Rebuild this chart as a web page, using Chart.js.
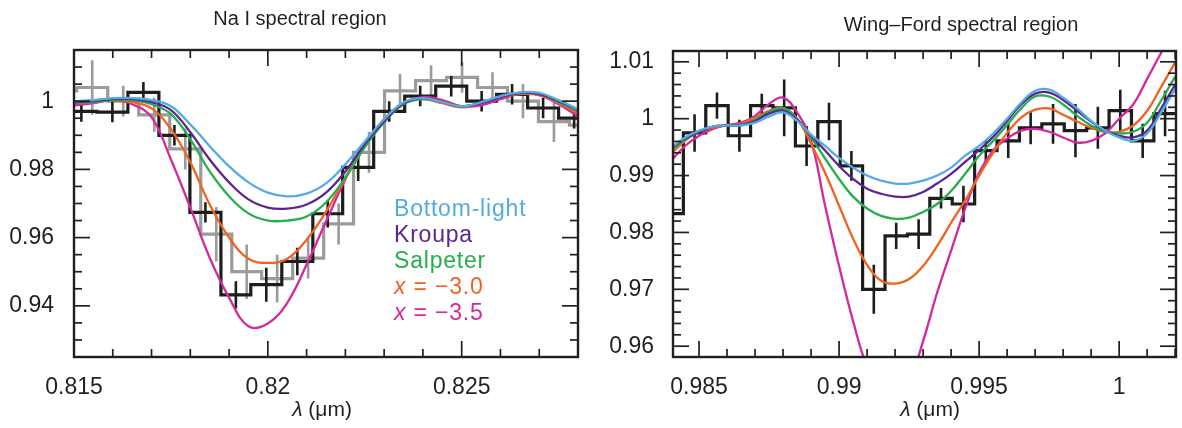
<!DOCTYPE html>
<html><head><meta charset="utf-8">
<script src="https://cdn.jsdelivr.net/npm/chart.js@4.4.1/dist/chart.umd.min.js"></script>
<style>
html,body{margin:0;padding:0;background:#fff;width:1182px;height:428px;overflow:hidden;}
#c1{position:absolute;left:0;top:0;}
#c2{position:absolute;left:590px;top:0;}
</style></head><body>
<canvas id="c1" width="590" height="428"></canvas>
<canvas id="c2" width="592" height="428"></canvas>
<script>
// ---------- Na I panel ----------
const naLambda = [0.815,0.8155,0.816,0.8165,0.817,0.8175,0.818,0.8185,0.819,0.8195,0.82,0.8205,0.821,0.8215,0.822,0.8225,0.823,0.8235,0.824,0.8245,0.825,0.8255,0.826,0.8265,0.827,0.8275,0.828];
const naBottomLight = [1.0000,1.0003,1.0009,1.0009,1.0003,0.9985,0.9932,0.9868,0.9809,0.9762,0.9732,0.9721,0.9729,0.9759,0.9815,0.9882,0.9947,0.9997,1.0009,0.9997,0.9985,0.9997,1.0015,1.0026,1.0024,1.0003,0.9976];
const naKroupa = [0.9997,1.0000,1.0006,1.0006,0.9997,0.9974,0.9909,0.9829,0.9762,0.9712,0.9688,0.9685,0.9697,0.9732,0.9794,0.9874,0.9941,0.9994,1.0009,0.9997,0.9985,0.9994,1.0012,1.0024,1.0021,1.0000,0.9974];
const naSalpeter = [0.9994,0.9997,1.0003,1.0003,0.9991,0.9962,0.9888,0.9794,0.9721,0.9671,0.9650,0.9650,0.9662,0.9703,0.9776,0.9865,0.9938,0.9991,1.0006,0.9997,0.9985,0.9994,1.0012,1.0024,1.0021,0.9997,0.9971];
const naX30 = [0.9994,0.9997,1.0003,0.9997,0.9979,0.9918,0.9821,0.9697,0.9600,0.9538,0.9526,0.9538,0.9594,0.9676,0.9776,0.9874,0.9944,0.9994,1.0006,0.9994,0.9982,0.9994,1.0012,1.0021,1.0018,0.9994,0.9965];
const naX35 = [0.9988,0.9994,1.0003,0.9991,0.9953,0.9829,0.9688,0.9541,0.9424,0.9340,0.9348,0.9409,0.9521,0.9647,0.9771,0.9874,0.9947,0.9994,1.0012,1.0003,0.9985,0.9988,1.0006,1.0021,1.0018,0.9991,0.9956];

const naBlackEdges = [0.81479,0.81559,0.81639,0.81719,0.81799,0.81879,0.81956,0.82036,0.82116,0.82193,0.82273,0.82353,0.82433,0.82513,0.82590,0.82670,0.82750,0.82830];
const naBlackFlux = [0.9970,0.9968,1.0026,0.9900,0.9674,0.9432,0.9462,0.9530,0.9670,0.9806,0.9970,1.0015,1.0044,1.0000,1.0020,0.9980,0.9950];
const naBlackErr = [0.003,0.003,0.003,0.003,0.003,0.004,0.005,0.004,0.004,0.004,0.003,0.003,0.003,0.003,0.003,0.003,0.003];

const naGreyEdges = [0.81427,0.81507,0.81587,0.81667,0.81747,0.81827,0.81907,0.81984,0.82064,0.82144,0.82221,0.82301,0.82381,0.82461,0.82541,0.82618,0.82698,0.82778,0.82858];
const naGreyFlux = [1.003,1.004,1.000,0.996,0.986,0.961,0.950,0.948,0.954,0.964,0.985,1.003,1.006,1.007,1.004,1.000,0.994,0.993];
const naGreyErr = [0.006,0.008,0.0045,0.005,0.006,0.008,0.008,0.007,0.006,0.006,0.006,0.005,0.0045,0.0045,0.0045,0.005,0.006,0.006];

const naXTicks = [0.815,0.82,0.825];
const naXTickLabels = ['0.815','0.82','0.825'];
const naXMinor = [0.816,0.817,0.818,0.819,0.821,0.822,0.823,0.824,0.826,0.827];
const naYTicks = [0.94,0.96,0.98,1.0];
const naYTickLabels = ['0.94','0.96','0.98','1'];
const naYMinor = [0.93,0.935,0.945,0.95,0.955,0.965,0.97,0.975,0.985,0.99,0.995,1.005,1.01];

// ---------- Wing-Ford panel ----------
const wfLambda = [0.984,0.9845,0.985,0.9855,0.986,0.9865,0.987,0.9875,0.988,0.9885,0.989,0.9895,0.99,0.9905,0.991,0.9915,0.992,0.9925,0.993,0.9935,0.994,0.9945,0.995,0.9955,0.996,0.9965,0.997,0.9975,0.998,0.9985,0.999,0.9995,1.0,1.0005,1.001,1.0015,1.002];
const wfBottomLight = [0.9949,0.9967,0.9979,0.9986,0.9988,0.9988,0.9993,1.0004,1.0011,0.9996,0.9972,0.9952,0.9931,0.9914,0.9900,0.9891,0.9886,0.9886,0.9891,0.9900,0.9914,0.9935,0.9952,0.9974,1.0000,1.0028,1.0049,1.0051,1.0037,1.0018,0.9996,0.9979,0.9967,0.9961,0.9974,1.0011,1.0053];
const wfKroupa = [0.9947,0.9965,0.9977,0.9986,0.9988,0.9989,0.9996,1.0009,1.0014,0.9998,0.9970,0.9944,0.9917,0.9894,0.9877,0.9868,0.9863,0.9863,0.9871,0.9886,0.9903,0.9924,0.9945,0.9968,0.9996,1.0025,1.0044,1.0046,1.0033,1.0014,0.9995,0.9979,0.9970,0.9967,0.9979,1.0018,1.0060];
const wfSalpeter = [0.9944,0.9963,0.9977,0.9986,0.9988,0.9989,0.9998,1.0012,1.0018,1.0000,0.9967,0.9930,0.9894,0.9863,0.9842,0.9829,0.9824,0.9826,0.9836,0.9850,0.9873,0.9903,0.9935,0.9961,0.9989,1.0018,1.0039,1.0039,1.0025,1.0005,0.9988,0.9977,0.9974,0.9977,0.9993,1.0032,1.0074];
const wfX30 = [0.9938,0.9961,0.9977,0.9984,0.9988,0.9991,1.0002,1.0014,1.0019,1.0000,0.9956,0.9905,0.9847,0.9789,0.9743,0.9715,0.9710,0.9718,0.9741,0.9776,0.9817,0.9856,0.9900,0.9940,0.9975,1.0002,1.0016,1.0018,1.0007,0.9995,0.9984,0.9977,0.9977,0.9988,1.0014,1.0056,1.0099];
const wfX35 = [0.9926,0.9952,0.9970,0.9982,0.9989,0.9993,1.0005,1.0026,1.0037,1.0011,0.9961,0.9847,0.9741,0.9644,0.9565,0.9530,0.9516,0.9539,0.9609,0.9694,0.9768,0.9842,0.9905,0.9944,0.9965,0.9979,0.9982,0.9977,0.9967,0.9958,0.9961,0.9974,1.0000,1.0025,1.0070,1.0116,1.0160];

const wfBlackEdges = [0.98364,0.98444,0.98524,0.98604,0.98684,0.98764,0.98844,0.98924,0.99004,0.99084,0.99164,0.99244,0.99324,0.99404,0.99484,0.99564,0.99644,0.99724,0.99804,0.99884,0.99964,1.00044,1.00124,1.00204];
const wfBlackFlux = [0.9833,0.9975,1.0023,0.9970,1.0023,1.0019,0.9952,0.9995,0.9917,0.9700,0.9794,0.9797,0.9860,0.9850,0.9944,0.9961,0.9984,0.9991,0.9979,0.9984,1.0014,0.9961,1.0009];
const wfBlackErr = [0.003,0.0033,0.0023,0.0028,0.0021,0.005,0.0035,0.0033,0.0026,0.0043,0.0023,0.0026,0.0018,0.0032,0.0018,0.003,0.0029,0.0035,0.0047,0.0037,0.0037,0.003,0.004];

const wfXTicks = [0.985,0.99,0.995,1.0];
const wfXTickLabels = ['0.985','0.99','0.995','1'];
const wfXMinor = [0.986,0.987,0.988,0.989,0.991,0.992,0.993,0.994,0.996,0.997,0.998,0.999,1.001,1.002];
const wfYTicks = [0.96,0.97,0.98,0.99,1.0,1.01];
const wfYTickLabels = ['0.96','0.97','0.98','0.99','1','1.01'];
const wfYMinor = [0.962,0.964,0.966,0.968,0.972,0.974,0.976,0.978,0.982,0.984,0.986,0.988,0.992,0.994,0.996,0.998,1.002,1.004,1.006,1.008];

// ---------- labels / colours ----------
const seriesNames = ['Bottom-light','Kroupa','Salpeter','x = \u22123.0','x = \u22123.5'];
const seriesColors = ['#54abe2','#5c2590','#25ad4e','#ef6322','#d3299c'];
const FONT = '"Liberation Sans", Arial, Helvetica, sans-serif';
const INK = '#231f20';

const curve = (i, lam, vals) => ({
  label: seriesNames[i], data: lam.map((l, k) => ({x: l, y: vals[k]})),
  borderColor: seriesColors[i], borderWidth: 2.3, pointRadius: 0, fill: false,
  tension: 0.4, order: i + 1
});
const hist = (label, edges, flux, color, width, order) => ({
  label, data: flux.map((f, k) => ({x: edges[k], y: f})).concat([{x: edges[edges.length - 1], y: flux[flux.length - 1]}]),
  stepped: 'before', borderColor: color, borderWidth: width, pointRadius: 0, fill: false, order
});
const errs = (label, edges, flux, err, color, width, order) => {
  const d = [];
  flux.forEach((f, k) => {
    const c = (edges[k] + edges[k + 1]) / 2;
    d.push({x: c, y: f - err[k]}, {x: c, y: f + err[k]}, {x: c, y: null});
  });
  return {label, data: d, borderColor: color, borderWidth: width, pointRadius: 0, spanGaps: false, fill: false, order};
};

const frameTicks = {
  id: 'frameTicks',
  afterDraw(chart, args, o) {
    const ctx = chart.ctx, a = chart.chartArea, xs = chart.scales.x, ys = chart.scales.y;
    ctx.save();
    ctx.strokeStyle = INK;
    ctx.lineWidth = 1.7;
    const seg = (x1, y1, x2, y2) => { ctx.beginPath(); ctx.moveTo(x1, y1); ctx.lineTo(x2, y2); ctx.stroke(); };
    [[o.xMajor, 16], [o.xMinor, 8]].forEach(([vals, len]) => vals.forEach(v => {
      const p = xs.getPixelForValue(v); seg(p, a.bottom, p, a.bottom - len); seg(p, a.top, p, a.top + len);
    }));
    [[o.yMajor, 16], [o.yMinor, 8]].forEach(([vals, len]) => vals.forEach(v => {
      const p = ys.getPixelForValue(v); seg(a.left, p, a.left + len, p); seg(a.right, p, a.right - len, p);
    }));
    ctx.lineWidth = 2.4;
    ctx.strokeRect(a.left, a.top, a.right - a.left, a.bottom - a.top);

    ctx.fillStyle = INK;
    ctx.textBaseline = 'middle';
    ctx.textAlign = 'center';
    ctx.font = '20px ' + FONT;
    ctx.fillText(o.title, o.titleX, o.titleY);

    // axis title: italic lambda + (µm)
    ctx.textAlign = 'left';
    const f1 = 'italic 21px ' + FONT, f2 = '21px ' + FONT;
    ctx.font = f1; const w1 = ctx.measureText('\u03bb').width;
    ctx.font = f2; const w2 = ctx.measureText(' (\u03bcm)').width;
    const sx = o.axisX - (w1 + w2) / 2;
    ctx.font = f1; ctx.fillText('\u03bb', sx, o.axisY);
    ctx.font = f2; ctx.fillText(' (\u03bcm)', sx + w1, o.axisY);

    if (o.legend) {
      ctx.letterSpacing = '0.8px';
      seriesNames.forEach((name, i) => {
        const y = o.legendY + i * o.legendStep;
        ctx.fillStyle = seriesColors[i];
        if (name.startsWith('x ')) {
          ctx.font = 'italic 23px ' + FONT;
          ctx.fillText('x', o.legendX, y);
          const wx = ctx.measureText('x').width;
          ctx.font = '23px ' + FONT;
          ctx.fillText(name.slice(1), o.legendX + wx, y);
        } else {
          ctx.font = '23px ' + FONT;
          ctx.fillText(name, o.legendX, y);
        }
      });
    }
    ctx.restore();
  }
};

function axisOpts(min, max, ticks, labels, pad, isX, size) {
  return {
    type: 'linear', min, max, position: isX ? 'bottom' : 'left',
    grid: {display: false}, border: {display: false},
    afterBuildTicks: s => { s.ticks = ticks.map(v => ({value: v})); },
    afterFit: s => { if (isX) s.height = size; else s.width = size; },
    ticks: {autoSkip: false, maxRotation: 0, padding: pad, color: INK,
      font: {family: FONT, size: 23}, callback: (v, i) => labels[i]}
  };
}

new Chart(document.getElementById('c1'), {
  type: 'line',
  data: {datasets: [
    curve(0, naLambda, naBottomLight), curve(1, naLambda, naKroupa), curve(2, naLambda, naSalpeter),
    curve(3, naLambda, naX30), curve(4, naLambda, naX35),
    hist('black', naBlackEdges, naBlackFlux, '#1d1d1d', 3.2, 50),
    errs('black err', naBlackEdges, naBlackFlux, naBlackErr, '#1d1d1d', 2.6, 49),
    hist('grey', naGreyEdges, naGreyFlux, '#9b9b9b', 3.2, 60),
    errs('grey err', naGreyEdges, naGreyFlux, naGreyErr, '#9b9b9b', 2.6, 59)
  ]},
  options: {
    responsive: false, animation: false, devicePixelRatio: 1,
    layout: {padding: {top: 50, right: 12, left: 0, bottom: 0}},
    plugins: {legend: {display: false}, tooltip: {enabled: false},
      frameTicks: {xMajor: naXTicks, xMinor: naXMinor, yMajor: naYTicks, yMinor: naYMinor,
        title: 'Na I spectral region', titleX: 300, titleY: 19, axisX: 322, axisY: 410,
        legend: true, legendX: 394, legendY: 210, legendStep: 25.8}},
    scales: {
      x: axisOpts(0.815, 0.828, naXTicks, naXTickLabels, 9, true, 71),
      y: axisOpts(0.925, 1.015, naYTicks, naYTickLabels, 12, false, 74)
    }
  },
  plugins: [frameTicks]
});

new Chart(document.getElementById('c2'), {
  type: 'line',
  data: {datasets: [
    curve(0, wfLambda, wfBottomLight), curve(1, wfLambda, wfKroupa), curve(2, wfLambda, wfSalpeter),
    curve(3, wfLambda, wfX30), curve(4, wfLambda, wfX35),
    hist('black', wfBlackEdges, wfBlackFlux, '#1d1d1d', 3.2, 50),
    errs('black err', wfBlackEdges, wfBlackFlux, wfBlackErr, '#1d1d1d', 2.6, 49)
  ]},
  options: {
    responsive: false, animation: false, devicePixelRatio: 1,
    layout: {padding: {top: 51, right: 6, left: 0, bottom: 0}},
    plugins: {legend: {display: false}, tooltip: {enabled: false},
      frameTicks: {xMajor: wfXTicks, xMinor: wfXMinor, yMajor: wfYTicks, yMinor: wfYMinor,
        title: 'Wing\u2013Ford spectral region', titleX: 371, titleY: 25, axisX: 340, axisY: 410,
        legend: false}},
    scales: {
      x: axisOpts(0.98407, 1.00203, wfXTicks, wfXTickLabels, 9, true, 71),
      y: axisOpts(0.9581, 1.0119, wfYTicks, wfYTickLabels, 11, false, 83)
    }
  },
  plugins: [frameTicks]
});
</script>
</body></html>
